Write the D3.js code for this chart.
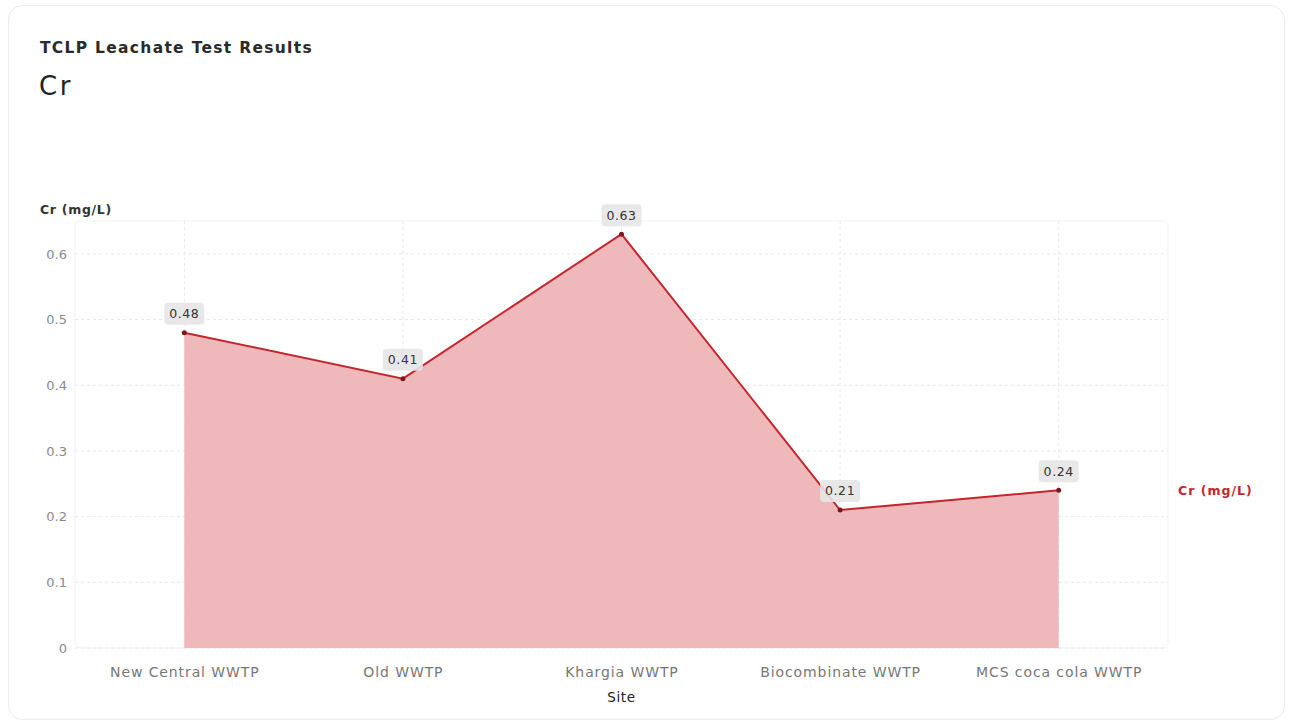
<!DOCTYPE html>
<html>
<head>
<meta charset="utf-8">
<script src="https://cdn.jsdelivr.net/npm/d3@7"></script>
<style>
  body { margin: 0; background: #fff; font-family: "DejaVu Sans", sans-serif; }
  svg { display: block; }
</style>
</head>
<body>
<svg id="chart" width="1291" height="725"></svg>
<script>
var width = 1291;
var height = 725;

// data
var sites = ["New Central WWTP", "Old WWTP", "Khargia WWTP", "Biocombinate WWTP", "MCS coca cola WWTP"];
var crValues = [0.48, 0.41, 0.63, 0.21, 0.24];
var yTicks = [0, 0.1, 0.2, 0.3, 0.4, 0.5, 0.6];

var data = sites.map(function(s, i) { return { site: s, value: crValues[i] }; });

var margin = { left: 75, right: 123, top: 221, bottom: 77 };
var font = "'DejaVu Sans', sans-serif";

var svg = d3.select("#chart").attr("font-family", font);

// card
svg.append("rect")
  .attr("x", 8.5).attr("y", 5.5)
  .attr("width", 1276).attr("height", 714)
  .attr("rx", 14)
  .attr("fill", "#fff")
  .attr("stroke", "#ececec");

svg.append("text")
  .attr("x", 40).attr("y", 53)
  .attr("font-size", 15.5).attr("font-weight", 600)
  .attr("letter-spacing", 1.3)
  .attr("fill", "#2a2a2a")
  .text("TCLP Leachate Test Results");

svg.append("text")
  .attr("x", 39).attr("y", 95)
  .attr("font-size", 26)
  .attr("letter-spacing", 2.5)
  .attr("fill", "#222")
  .text("Cr");

var x = d3.scalePoint()
  .domain(sites)
  .range([margin.left, width - margin.right])
  .padding(0.5);

var y = d3.scaleLinear()
  .domain([0, 0.65])
  .range([height - margin.bottom, margin.top]);

// plot background
svg.append("rect")
  .attr("x", margin.left).attr("y", margin.top)
  .attr("width", width - margin.right - margin.left)
  .attr("height", height - margin.bottom - margin.top)
  .attr("rx", 6)
  .attr("fill", "#fff")
  .attr("stroke", "#f2f2f2");

// grid
svg.append("g")
  .selectAll("line")
  .data(yTicks)
  .enter().append("line")
  .attr("x1", margin.left).attr("x2", width - margin.right)
  .attr("y1", function(d) { return y(d); })
  .attr("y2", function(d) { return y(d); })
  .attr("stroke", "#e8e8e8")
  .attr("stroke-dasharray", "3,3");

svg.append("g")
  .selectAll("line")
  .data(sites)
  .enter().append("line")
  .attr("x1", function(d) { return x(d); })
  .attr("x2", function(d) { return x(d); })
  .attr("y1", margin.top).attr("y2", height - margin.bottom)
  .attr("stroke", "#e8e8e8")
  .attr("stroke-dasharray", "3,3");

// area + line
var area = d3.area()
  .x(function(d) { return x(d.site); })
  .y0(y(0))
  .y1(function(d) { return y(d.value); });

var line = d3.line()
  .x(function(d) { return x(d.site); })
  .y(function(d) { return y(d.value); });

svg.append("path")
  .datum(data)
  .attr("d", area)
  .attr("fill", "#efb9bb");

svg.append("path")
  .datum(data)
  .attr("d", line)
  .attr("fill", "none")
  .attr("stroke", "#c4262e")
  .attr("stroke-width", 2);

svg.append("g")
  .selectAll("circle")
  .data(data)
  .enter().append("circle")
  .attr("cx", function(d) { return x(d.site); })
  .attr("cy", function(d) { return y(d.value); })
  .attr("r", 2.5)
  .attr("fill", "#7a1a1e");

// value labels
var labels = svg.append("g")
  .selectAll("g")
  .data(data)
  .enter().append("g")
  .attr("transform", function(d) { return "translate(" + x(d.site) + "," + (y(d.value) - 19) + ")"; });

labels.append("rect")
  .attr("x", -20).attr("y", -11)
  .attr("width", 40).attr("height", 22)
  .attr("rx", 4)
  .attr("fill", "#e6e6e6")
  .attr("fill-opacity", 0.9);

labels.append("text")
  .attr("text-anchor", "middle")
  .attr("dy", "0.35em")
  .attr("font-size", 12.5)
  .attr("letter-spacing", 0.6)
  .attr("fill", "#333")
  .text(function(d) { return d.value; });

// axes
var yAxis = d3.axisLeft(y).tickValues(yTicks).tickSize(0).tickPadding(8)
  .tickFormat(function(d) { return d; });

var gy = svg.append("g")
  .attr("transform", "translate(" + margin.left + ",0)")
  .call(yAxis);
gy.select(".domain").remove();
gy.selectAll("text").attr("font-size", 13).attr("fill", "#8a8a8a")
  .attr("font-family", font);

var gx = svg.append("g")
  .attr("transform", "translate(0," + (height - margin.bottom) + ")")
  .call(d3.axisBottom(x).tickSize(0).tickPadding(19));
gx.select(".domain").remove();
gx.selectAll("text").attr("font-size", 14).attr("fill", "#777")
  .attr("letter-spacing", 0.9)
  .attr("font-family", font);

svg.append("text")
  .attr("x", x(sites[2])).attr("y", 702)
  .attr("text-anchor", "middle")
  .attr("font-size", 13.5)
  .attr("letter-spacing", 0.6)
  .attr("fill", "#222")
  .text("Site");

svg.append("text")
  .attr("x", 40).attr("y", 214)
  .attr("font-size", 12.5).attr("font-weight", 600)
  .attr("letter-spacing", 0.7)
  .attr("fill", "#333")
  .text("Cr (mg/L)");

// legend
svg.append("text")
  .attr("x", 1178).attr("y", 495)
  .attr("font-size", 12.5).attr("font-weight", 600)
  .attr("letter-spacing", 1)
  .attr("fill", "#c4262e")
  .text("Cr (mg/L)");
</script>
</body>
</html>
